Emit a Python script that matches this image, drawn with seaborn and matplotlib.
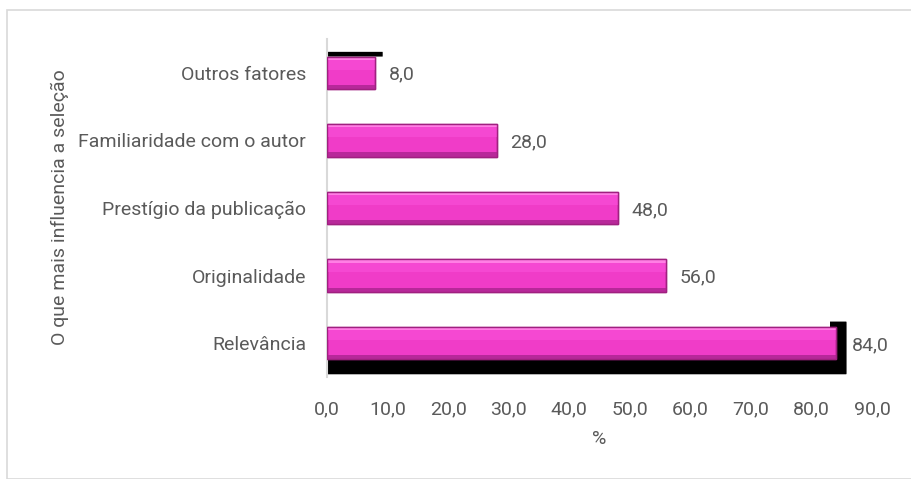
import matplotlib
matplotlib.use("Agg")
import matplotlib.pyplot as plt
from matplotlib.patches import Rectangle, FancyBboxPatch
import seaborn as sns
import pandas as pd

# Survey results: what most influences selection (%)
categories = ["Outros fatores", "Familiaridade com o autor", "Prestígio da publicação",
              "Originalidade", "Relevância"]
values = [8.0, 28.0, 48.0, 56.0, 84.0]
x_ticks = [0, 10, 20, 30, 40, 50, 60, 70, 80, 90]

df = pd.DataFrame({"categoria": categories, "pct": values})

sns.set_theme(style="white")
plt.rcParams["font.family"] = ["Roboto", "DejaVu Sans"]
text_col = "#5A5A5A"
fs = 14
fw = "normal"

fig = plt.figure(figsize=(9.12, 4.79), dpi=100)
fig.patches.append(Rectangle((7 / 912, 0), 1, 1 - 10 / 479, transform=fig.transFigure,
                             fill=False, edgecolor="#D9D9D9", linewidth=1.2, zorder=0))
ax = fig.add_axes([327 / 912, 1 - 377 / 479, (872 - 327) / 912, (377 - 39) / 479])

sns.barplot(data=df, x="pct", y="categoria", order=categories, color="#F03CC8",
            width=0.48, edgecolor="#A02080", linewidth=1.0, saturation=1, ax=ax, zorder=3)

bars = ax.patches[:len(categories)]
for bar in bars:
    x0, y0 = bar.get_x(), bar.get_y()
    w, h = bar.get_width(), bar.get_height()
    # bevel: light rim on top, darker rim at the bottom
    ax.add_patch(Rectangle((x0, y0), w, h * 0.1, facecolor="#FF7FE4",
                           edgecolor="none", zorder=4))
    ax.add_patch(Rectangle((x0, y0 + h * 0.1), w, h * 0.3, facecolor="#F548D2",
                           edgecolor="none", zorder=4))
    ax.add_patch(Rectangle((x0, y0 + h * 0.87), w, h * 0.13, facecolor="#B8289A",
                           edgecolor="none", zorder=4))
    ax.add_patch(Rectangle((x0, y0), w, h, facecolor="none",
                           edgecolor="#A02080", linewidth=1.0, zorder=5))

# dark shadows on the outer bars
top, bottom = bars[0], bars[-1]
ax.add_patch(FancyBboxPatch((0, top.get_y() - 0.07), top.get_width() + 1.2, 0.07,
                            boxstyle="round,pad=0,rounding_size=0.02",
                            facecolor="black", edgecolor="none", zorder=2, clip_on=False))
ax.add_patch(FancyBboxPatch((0, bottom.get_y() - 0.08), bottom.get_width() + 1.8,
                            bottom.get_height() + 0.3,
                            boxstyle="round,pad=0,rounding_size=0.08",
                            mutation_aspect=1 / 6,
                            facecolor="black", edgecolor="none", zorder=2, clip_on=False))
ax.add_patch(Rectangle((0, bottom.get_y() - 0.1), bottom.get_width() - 1, 0.1,
                       facecolor="white", edgecolor="none", zorder=2.5))

for i, (bar, v) in enumerate(zip(bars, values)):
    off = 2.7 if i == len(values) - 1 else 2.3
    ax.text(bar.get_width() + off, bar.get_y() + bar.get_height() / 2 + 0.03,
            f"{v:.1f}".replace(".", ","), va="center", ha="left",
            fontsize=fs, color=text_col, fontweight=fw)

ax.set_xlim(0, 90)
ax.set_ylim(4.5, -0.5)
ax.set_xticks(x_ticks)
ax.set_xticklabels([f"{t:.1f}".replace(".", ",") for t in x_ticks], fontweight=fw)
ax.set_yticks(range(len(categories)))
ax.set_yticklabels(categories, fontweight=fw)
ax.tick_params(axis="x", labelsize=fs, colors=text_col, length=0, pad=17)
ax.tick_params(axis="y", labelsize=fs, colors=text_col, length=0, pad=15)
for s in ["top", "right", "bottom"]:
    ax.spines[s].set_visible(False)
ax.spines["left"].set_color("#D9D9D9")
ax.spines["left"].set_linewidth(1.5)
ax.set_xlabel("%", fontsize=fs, color=text_col, labelpad=8, fontweight=fw)
ax.set_ylabel("")
fig.text(60 / 912, 1 - 207 / 479, "O que mais influencia a seleção", rotation=90,
         ha="center", va="center", fontsize=fs, color=text_col, fontweight=fw)

fig.savefig("out.png", dpi=100)
